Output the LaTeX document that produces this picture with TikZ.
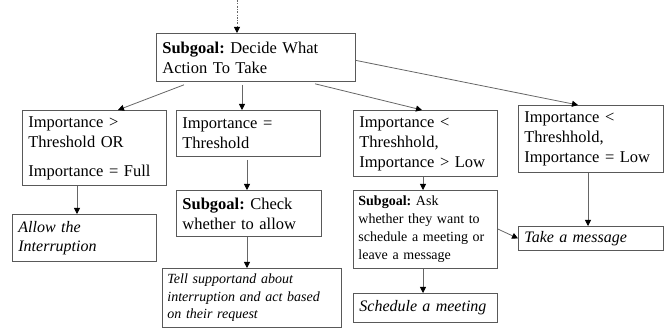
\documentclass[tikz,border=0pt]{standalone}
\usepackage{fontspec}
\setmainfont{Liberation Serif}
\usetikzlibrary{arrows.meta}
\frenchspacing

\begin{document}
\begin{tikzpicture}[%
    x=1pt, y=-1pt,              % one unit per pixel, y grows downwards
    >={Triangle[length=6pt,width=6pt,color=black]}, % small solid heads
    font=\fontsize{16.5}{20}\selectfont,
    ]
% -------------------------------------------------
% Box and connector styles
\tikzset{
  base/.style={draw=black!65, line width=0.8pt, anchor=north west,
    align=left, inner xsep=6pt, inner ysep=0pt},
  cond/.style={base},
  act/.style={base, font=\fontsize{16}{19}\selectfont\itshape},
  norm/.style={->, draw=black!60, line width=0.8pt},
  entry/.style={norm, dash pattern=on 2pt off 1.5pt on 0.6pt off 1.5pt}
}
\useasboundingbox (0,0) rectangle (669,328);
% -------------------------------------------------
% Place the boxes
\node [cond, text width=187pt, minimum height=48pt] (decide) at (156,33)
  {\textbf{Subgoal:} Decide What\\Action To Take};

\node [cond, text width=132pt, minimum height=75pt] (high) at (22,110)
  {Importance >\\Threshold OR\\[9pt]Importance = Full};
\node [cond, text width=132pt, minimum height=46pt] (same) at (176,110)
  {Importance =\\Threshold};
\node [cond, text width=132pt, minimum height=66pt] (mid) at (353,110)
  {Importance <\\Threshhold,\\Importance > Low};
\node [cond, text width=133pt, minimum height=67pt] (low) at (518,105)
  {Importance <\\Threshhold,\\Importance = Low};

\node [act, text width=132pt, minimum height=47pt] (allow) at (12,214)
  {Allow the\\Interruption};
\node [cond, text width=133pt, minimum height=46pt] (check) at (176,190)
  {\textbf{Subgoal:} Check\\whether to allow};
\node [act, text width=169pt, minimum height=59pt, inner xsep=5pt,
  font=\fontsize{14}{17.5}\selectfont\itshape] (tell) at (162,268)
  {Tell supportand about\\interruption and act based\\on their request};
\node [cond, text width=134pt, minimum height=78pt, inner xsep=5pt,
  font=\fontsize{14}{18}\selectfont] (ask) at (353,190)
  {\textbf{Subgoal:} Ask\\whether they want to\\schedule a meeting or\\leave a message};
\node [act, text width=132pt, minimum height=29pt] (sched) at (353,293)
  {Schedule a meeting};
\node [act, text width=133pt, minimum height=24pt] (msg) at (518,226)
  {Take a message};

% -------------------------------------------------
% Connectors
\coordinate (top) at (237,0);
\draw [entry] (top) -- ([xshift=81pt]decide.north west);

\draw [norm] ([xshift=28pt,yshift=-3pt]decide.south west)
  -- ([xshift=96pt]high.north west);
\draw [norm] ([xshift=86pt,yshift=-3pt]decide.south west)
  -- ([xshift=66pt]same.north west);
\draw [norm] ([xshift=159pt,yshift=-2pt]decide.south west)
  -- ([xshift=69pt]mid.north west);
\draw [norm] ([yshift=-3pt]decide.east)
  -- ([xshift=60pt]low.north west);

\draw [norm] ([xshift=55pt]high.south west) -- ([xshift=65pt]allow.north west);
\draw [norm] ([xshift=71pt,yshift=-3pt]same.south west)
  -- ([xshift=71pt]check.north west);
\draw [norm] ([xshift=71pt]check.south west) -- ([xshift=85pt]tell.north west);
\draw [norm] ([xshift=70pt]mid.south west) -- ([xshift=70pt]ask.north west);
\draw [norm] ([xshift=70pt]ask.south west) -- ([xshift=70pt]sched.north west);
\draw [norm] ([xshift=70pt]low.south west) -- ([xshift=70pt]msg.north west);
\draw [norm] ([yshift=-39pt]ask.north east) -- (msg.west);

% -------------------------------------------------
\end{tikzpicture}
\end{document}
